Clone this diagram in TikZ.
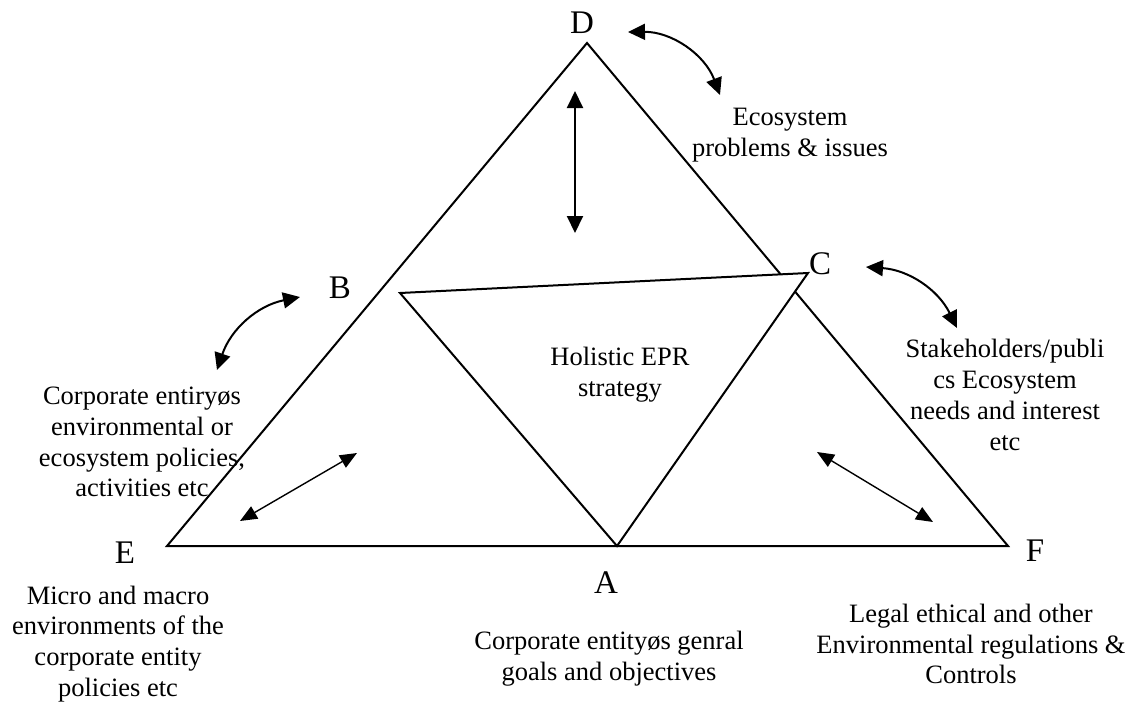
\documentclass[tikz,border=0pt]{standalone}
\usepackage{fontspec}
\setmainfont{Liberation Serif}
\usetikzlibrary{arrows.meta}
\begin{document}
\begin{tikzpicture}[x=0.5pt,y=-0.5pt,
  edge/.style={line width=1pt, line join=miter},
  dblarrow/.style={line width=1pt, {Triangle[length=8.5pt,width=8pt]}-{Triangle[length=8.5pt,width=8pt]}},
  thinarrow/.style={line width=0.7pt, {Triangle[length=8.5pt,width=7pt]}-{Triangle[length=8.5pt,width=7pt]}},
  txt/.style={align=center, font=\fontsize{13.25}{15.4}\selectfont, inner sep=0pt},
  lbl/.style={font=\fontsize{16.5}{19}\selectfont, inner sep=0pt}]
\useasboundingbox (0,0) rectangle (1131,703);
\coordinate (E) at (167,546);
\coordinate (D) at (587,43);
\coordinate (F) at (1008,546);
\coordinate (A) at (617,546);
\coordinate (B) at (400,293);
\coordinate (C) at (808,273);
\draw[edge] (E) -- (D) -- (F) -- cycle;
\draw[edge, fill=white] (B) -- (C) -- (A) -- cycle;
% arrows
\coordinate (v1) at (575,91); \coordinate (v2) at (575,233);
\draw[dblarrow] (v1) -- (v2);
\coordinate (d1) at (628,32); \coordinate (d2) at (720,95);
\draw[dblarrow] (d1) to[bend left=35] (d2);
\coordinate (b1) at (300,297); \coordinate (b2) at (217,370);
\draw[dblarrow] (b1) to[bend right=30] (b2);
\coordinate (c1) at (866,267); \coordinate (c2) at (957,328);
\draw[dblarrow] (c1) to[bend left=30] (c2);
\coordinate (l1) at (357,453); \coordinate (l2) at (240,521);
\draw[thinarrow] (l1) -- (l2);
\coordinate (r1) at (817,452); \coordinate (r2) at (933,522);
\draw[thinarrow] (r1) -- (r2);
% letters
\node[lbl] (lD) at (582,23) {D};
\node[lbl] (lB) at (340,288) {B};
\node[lbl] (lC) at (820,264) {C};
\node[lbl] (lE) at (125,553) {E};
\node[lbl] (lF) at (1035,551) {F};
\node[lbl] (lA) at (606,583) {A};
% texts
\node[txt] (tEco) at (790,135) {Ecosystem\\problems \& issues};
\node[txt] (tHol) at (620,375) {Holistic EPR\\strategy};
\node[txt] (tStk) at (1005,395) {Stakeholders/publi\\cs Ecosystem\\needs and interest\\etc};
\node[txt] (tCorp) at (142,442) {Corporate entiryøs\\environmental or\\ecosystem policies,\\activities etc};
\node[txt] (tMic) at (118,644) {Micro and macro\\environments of the\\corporate entity\\policies etc};
\node[txt] (tGoal) at (609,659) {Corporate entityøs genral\\goals and objectives};
\node[txt] (tLeg) at (971,644) {Legal ethical and other\\Environmental regulations \&\\Controls};
\end{tikzpicture}
\end{document}
